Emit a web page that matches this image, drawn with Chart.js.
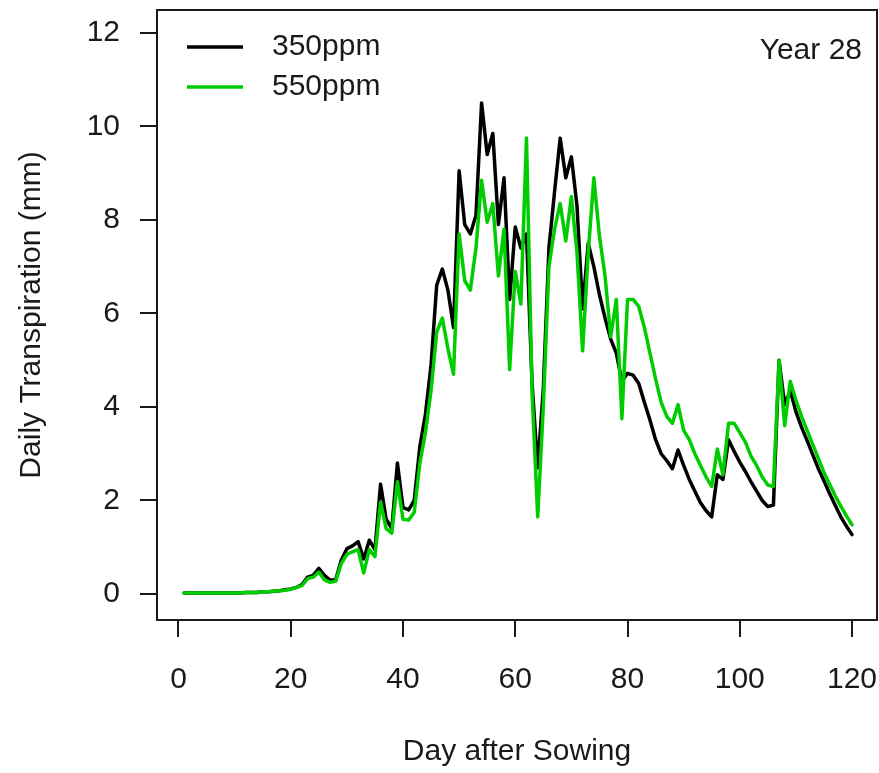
<!DOCTYPE html>
<html>
<head>
<meta charset="utf-8">
<script src="https://cdn.jsdelivr.net/npm/chart.js@4/dist/chart.umd.min.js"></script>
<style>
  body { margin: 0; background: #fff; }
  canvas { display: block; }
</style>
</head>
<body>
<canvas id="chart" width="879" height="773"></canvas>
<script>
// day after sowing, 1..120
const days = Array.from({ length: 120 }, (_, i) => i + 1);

// daily transpiration (mm)
const ppm350 = [
    0.02, 0.02, 0.02, 0.02, 0.02, 0.02, 0.02, 0.02, 0.02, 0.02, 0.02, 0.03, 0.03, 0.03,
    0.05, 0.05, 0.06, 0.07, 0.09, 0.11,
    0.14, 0.2, 0.36, 0.4, 0.55, 0.4, 0.3, 0.3, 0.72, 0.97,
    1.03, 1.12, 0.75, 1.15, 0.95, 2.35, 1.6, 1.4, 2.8, 1.85,
    1.8, 2.0, 3.15, 3.85, 4.9, 6.6, 6.95, 6.5, 5.7, 9.05,
    7.9, 7.7, 8.1, 10.5, 9.4, 9.85, 7.9, 8.9, 6.3, 7.85,
    7.4, 7.7, 4.5, 2.7, 4.4, 7.4, 8.6, 9.75, 8.9, 9.35,
    8.3, 6.1, 7.5, 7.0, 6.4, 5.9, 5.45, 5.15, 4.55, 4.72,
    4.68, 4.5, 4.1, 3.72, 3.3, 3.0, 2.85, 2.68, 3.08, 2.75,
    2.45, 2.2, 1.95, 1.78, 1.65, 2.55, 2.45, 3.3, 3.05, 2.82,
    2.62, 2.4, 2.2, 2.0, 1.87, 1.9, 5.0, 4.05, 4.35, 3.9,
    3.57, 3.28, 2.98, 2.68, 2.42, 2.15, 1.9, 1.65, 1.45, 1.27
];
const ppm550 = [
    0.02, 0.02, 0.02, 0.02, 0.02, 0.02, 0.02, 0.02, 0.02, 0.02, 0.02, 0.03, 0.03, 0.03,
    0.05, 0.05, 0.06, 0.07, 0.08, 0.1,
    0.14, 0.18, 0.33, 0.36, 0.47, 0.3, 0.25, 0.27, 0.65, 0.85,
    0.9, 0.95, 0.45, 0.95, 0.8, 1.97, 1.4, 1.3, 2.4, 1.6,
    1.58, 1.75, 2.8, 3.45, 4.35, 5.6, 5.9, 5.25, 4.7, 7.7,
    6.7, 6.5, 7.4, 8.85, 7.95, 8.35, 6.8, 7.8, 4.8, 6.9,
    6.2, 9.75, 4.3, 1.65, 4.0, 7.0, 7.8, 8.35, 7.55, 8.5,
    7.3, 5.2, 7.3, 8.9, 7.65, 6.8, 5.5, 6.3, 3.75, 6.3,
    6.3, 6.15, 5.7, 5.15, 4.6, 4.1, 3.8, 3.65, 4.05, 3.5,
    3.3, 3.0, 2.75, 2.5, 2.3, 3.1, 2.55, 3.65, 3.65, 3.45,
    3.25, 2.95, 2.75, 2.5, 2.33, 2.3, 5.0, 3.6, 4.55, 4.15,
    3.8, 3.5, 3.2, 2.9, 2.6, 2.35, 2.1, 1.88, 1.67, 1.48
];

const xTicks = [0, 20, 40, 60, 80, 100, 120];
const yTicks = [0, 2, 4, 6, 8, 10, 12];
const seriesNames = ['350ppm', '550ppm'];
const yearLabel = 'Year 28';

const FONT = '"Liberation Sans", Arial, sans-serif';
const FONT_SIZE = 30;
const INK = '#1a1a1a';

function toPoints(values) {
    return values.map((v, i) => ({ x: days[i], y: v }));
}

// box around the plot + legend + year label, drawn like the R figure
const rDecor = {
    id: 'rDecor',
    afterDraw(chart) {
        const { ctx, chartArea } = chart;
        ctx.save();
        ctx.strokeStyle = INK;
        ctx.lineWidth = 2;
        ctx.strokeRect(chartArea.left, chartArea.top,
            chartArea.right - chartArea.left, chartArea.bottom - chartArea.top);

        ctx.font = FONT_SIZE + 'px ' + FONT;
        ctx.textBaseline = 'middle';
        ctx.fillStyle = INK;
        chart.data.datasets.forEach((ds, i) => {
            const y = 47 + i * 40;
            ctx.strokeStyle = ds.borderColor;
            ctx.lineWidth = 3.5;
            ctx.beginPath();
            ctx.moveTo(187, y);
            ctx.lineTo(243, y);
            ctx.stroke();
            ctx.textAlign = 'left';
            ctx.fillText(ds.label, 272, y);
        });
        ctx.textAlign = 'right';
        ctx.fillText(yearLabel, 862, 51);
        ctx.restore();
    }
};

let ctx = document.getElementById('chart').getContext('2d');
let myChart = new Chart(ctx, {
    type: 'scatter',
    data: {
        datasets: [{
            label: seriesNames[0],
            data: toPoints(ppm350),
            showLine: true,
            borderColor: '#000000',
            borderWidth: 3.5,
            pointRadius: 0,
            tension: 0,
            borderJoinStyle: 'round',
            borderCapStyle: 'round',
            order: 2
        }, {
            label: seriesNames[1],
            data: toPoints(ppm550),
            showLine: true,
            borderColor: '#00cd00',
            borderWidth: 3.5,
            pointRadius: 0,
            tension: 0,
            borderJoinStyle: 'round',
            borderCapStyle: 'round',
            order: 1
        }]
    },
    options: {
        responsive: false,
        animation: false,
        layout: { padding: { top: 10, right: 2, left: 0, bottom: 0 } },
        plugins: {
            legend: { display: false },
            tooltip: { enabled: false }
        },
        scales: {
            x: {
                type: 'linear',
                min: -3.83,
                max: 124.45,
                afterBuildTicks: scale => { scale.ticks = xTicks.map(v => ({ value: v })); },
                afterFit: scale => {
                    scale.height = 153;
                    scale.paddingLeft = 0;
                    scale.paddingRight = 0;
                },
                border: { display: false },
                grid: {
                    drawOnChartArea: false,
                    tickLength: 17,
                    color: INK,
                    lineWidth: 2
                },
                ticks: {
                    autoSkip: false,
                    maxRotation: 0,
                    padding: 25,
                    color: INK,
                    font: { family: FONT, size: FONT_SIZE }
                },
                title: {
                    display: true,
                    text: 'Day after Sowing',
                    color: INK,
                    font: { family: FONT, size: FONT_SIZE },
                    padding: { bottom: 3 }
                }
            },
            y: {
                type: 'linear',
                min: -0.556,
                max: 12.49,
                afterBuildTicks: scale => { scale.ticks = yTicks.map(v => ({ value: v })); },
                afterFit: scale => {
                    scale.width = 157;
                    scale.paddingTop = 0;
                    scale.paddingBottom = 0;
                },
                border: { display: false },
                grid: {
                    drawOnChartArea: false,
                    tickLength: 17,
                    color: INK,
                    lineWidth: 2
                },
                ticks: {
                    padding: 20,
                    color: INK,
                    font: { family: FONT, size: FONT_SIZE }
                },
                title: {
                    display: true,
                    text: 'Daily Transpiration (mm)',
                    color: INK,
                    font: { family: FONT, size: FONT_SIZE },
                    padding: { top: 14 }
                }
            }
        }
    },
    plugins: [rDecor]
});
</script>
</body>
</html>
